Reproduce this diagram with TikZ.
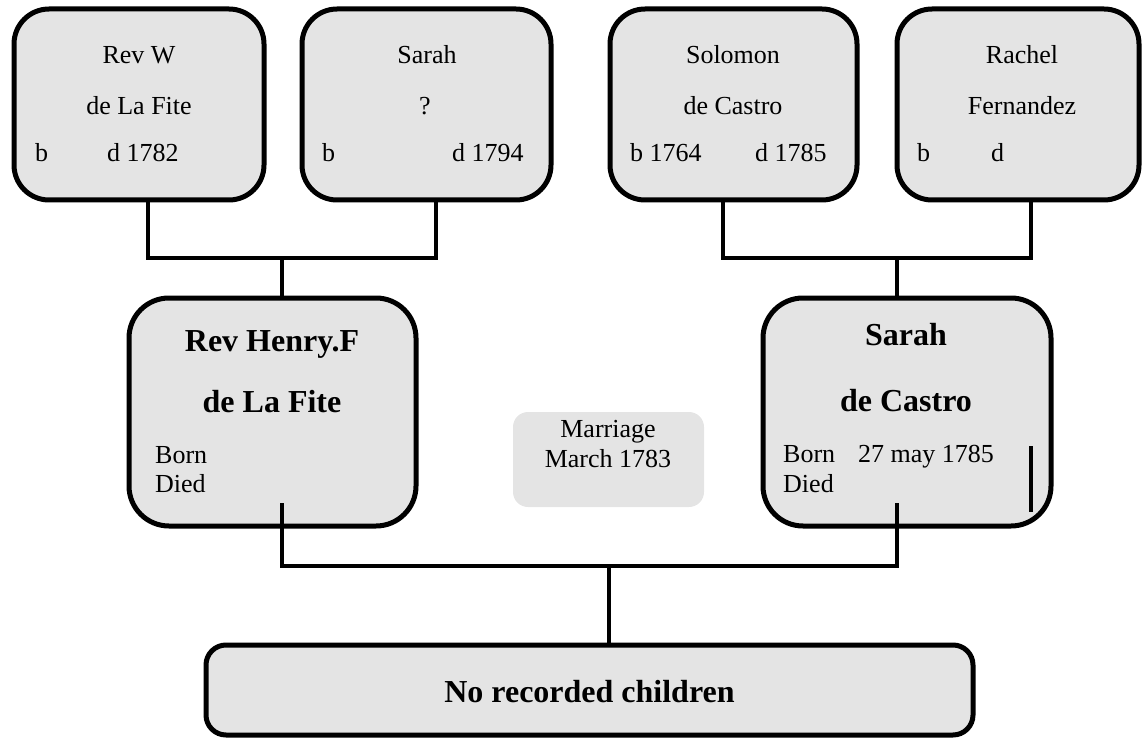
\documentclass[tikz,border=0pt]{standalone}
\usepackage{fontspec}
\setmainfont{Liberation Serif}
\usetikzlibrary{calc}
\definecolor{cardfill}{RGB}{228,228,228}
\begin{document}
\begin{tikzpicture}[x=1pt,y=-1pt,
  card/.style={draw=black, line width=5pt, fill=cardfill, rounded corners=#1, inner sep=0pt},
  card/.default=35pt,
  note/.style={fill=cardfill, rounded corners=15pt, inner sep=0pt},
  txt/.style={inner sep=0pt, anchor=base, font=\fontsize{26}{30}\selectfont},
  txtl/.style={txt, anchor=base west},
  btxt/.style={inner sep=0pt, anchor=base, font=\fontsize{32}{36}\selectfont\bfseries},
  link/.style={line width=4pt, line cap=rect}]
\useasboundingbox (0,0) rectangle (1143,738);

% parents' generation
\node[card, minimum width=250pt, minimum height=191pt] (rw) at (139,104.5) {};
\node[card, minimum width=249pt, minimum height=191pt] (sw) at (426.5,104.5) {};
\node[card, minimum width=247pt, minimum height=191pt] (sc) at (733.5,104.5) {};
\node[card, minimum width=242pt, minimum height=191pt] (rf) at (1018,104.5) {};

% couple
\node[card=40pt, minimum width=287pt, minimum height=228pt] (hf) at (272.5,412) {};
\node[card=40pt, minimum width=288pt, minimum height=228pt] (sd) at (907,412) {};

% marriage note and children
\node[note, minimum width=191pt, minimum height=95pt] (mar) at (608.5,459.5) {};
\node[card=20pt, minimum width=767pt, minimum height=90pt] (kids) at (589.5,690) {};

% texts of the parents
\node[txt] (rw1) at (139,64) {Rev W};
\node[txt] (rw2) at (139,115) {de La Fite};
\node[txtl] (rw3) at (35,162) {b};
\node[txtl] (rw4) at (107,162) {d 1782};

\node[txt] (sw1) at (427,64) {Sarah};
\node[txt] (sw2) at (425,115) {?};
\node[txtl] (sw3) at (322,162) {b};
\node[txtl] (sw4) at (452,162) {d 1794};

\node[txt] (sc1) at (733,64) {Solomon};
\node[txt] (sc2) at (733,115) {de Castro};
\node[txtl] (sc3) at (630,162) {b 1764};
\node[txtl] (sc4) at (755,162) {d 1785};

\node[txt] (rf1) at (1022,64) {Rachel};
\node[txt] (rf2) at (1022,115) {Fernandez};
\node[txtl] (rf3) at (917,162) {b};
\node[txtl] (rf4) at (991,162) {d};

% texts of the couple
\node[btxt] (hf1) at (272,351) {Rev Henry.F};
\node[btxt] (hf2) at (272,412) {de La Fite};
\node[txtl] (hf3) at (155,463) {Born};
\node[txtl] (hf4) at (155,492) {Died};

\node[btxt] (sd1) at (906,345) {Sarah};
\node[btxt] (sd2) at (906,411) {de Castro};
\node[txtl] (sd3) at (783,462) {Born};
\node[txtl] (sd4) at (858,462) {27 may 1785};
\node[txtl] (sd5) at (783,492) {Died};

\node[txt] (mar1) at (608,437) {Marriage};
\node[txt] (mar2) at (608,467) {March 1783};
\node[btxt] (kids1) at (589.5,702) {No recorded children};

% family lines
\coordinate (la) at (148,258);
\coordinate (lb) at (436,258);
\coordinate (lc) at (282,258);
\coordinate (ra) at (723,258);
\coordinate (rb) at (1031,258);
\coordinate (rc) at (897,258);
\coordinate (ma) at (282,566);
\coordinate (mb) at (897,566);
\coordinate (mc) at (609,566);
\coordinate (hfstub) at (282,505);
\coordinate (sdstub) at (897,505);
\coordinate (mark1) at (1031,448);
\coordinate (mark2) at (1031,510);

\draw[link] (la |- rw.south) -- (la) -- (lb) -- (lb |- sw.south);
\draw[link] (lc) -- (lc |- hf.north);
\draw[link] (ra |- sc.south) -- (ra) -- (rb) -- (rb |- rf.south);
\draw[link] (rc) -- (rc |- sd.north);
\draw[link] (hfstub) -- (ma) -- (mb) -- (sdstub);
\draw[link] (mc) -- (mc |- kids.north);
\draw[link] (mark1) -- (mark2);
\end{tikzpicture}
\end{document}
